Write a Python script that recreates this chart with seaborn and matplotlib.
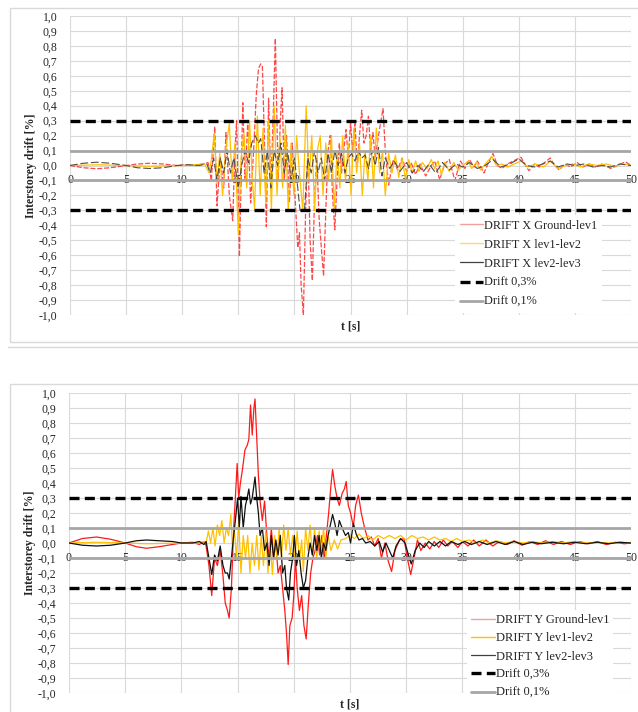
import numpy as np
import matplotlib
matplotlib.use("Agg")
import matplotlib.pyplot as plt
import seaborn as sns
from matplotlib.lines import Line2D
from matplotlib.patches import Rectangle
from matplotlib.ticker import FuncFormatter

# ---------------- DATA ----------------
# Top chart: DRIFT X
tx_g1 = [0, 1.2, 2.4, 3.6, 5.0, 6.0, 7.1, 8.3, 9.5, 10.5, 11.2, 11.8, 12.3, 12.6, 12.9, 13.1, 13.4, 13.7, 13.9, 14.2,
         14.5, 14.7, 14.85, 15.1, 15.4, 15.6, 15.85, 16.1, 16.4, 16.6, 16.8, 17.0, 17.15, 17.35, 17.5, 17.7, 17.9, 18.1,
         18.3, 18.55, 18.75, 18.9, 19.1, 19.3, 19.55, 19.8, 20.05, 20.3, 20.45, 20.6, 20.8, 21.0, 21.2, 21.4, 21.6, 21.8,
         22.0, 22.2, 22.45, 22.6, 22.8, 23.0, 23.2, 23.4, 23.6, 23.8, 24.0, 24.2, 24.4, 24.6, 24.8, 25.0, 25.2, 25.4,
         25.6, 25.8, 26.0, 26.2, 26.4, 26.6, 26.8, 27.0, 27.2, 27.4, 27.6, 27.9, 28.1, 28.4, 28.8, 29.2, 29.6, 30.0,
         30.4, 30.8, 31.2, 31.7, 32.2, 32.5, 32.95, 33.4, 33.8, 34.3, 34.8, 35.2, 35.6, 36.0, 36.3, 36.9, 37.3, 37.7,
         38.1, 38.5, 39.0, 39.5, 40.2, 40.6, 40.9, 41.4, 41.8, 42.3, 42.8, 43.2, 43.6, 44.1, 44.6, 45.2, 45.7, 46.3,
         46.8, 47.4, 48.2, 48.8, 49.5, 50]
vx_g1 = [0, -0.015, -0.022, -0.015, 0, 0.01, 0.015, 0.01, 0, 0.005, 0.0, 0.01, 0.02, -0.1, 0.26, -0.27, 0.05, -0.15,
         0.22, -0.2, -0.37, 0.1, 0.3, -0.61, 0.42, -0.1, 0.3, -0.25, 0.15, 0.47, 0.65, 0.68, 0.66, 0.1, -0.41, 0.45,
         -0.15, 0.3, 0.85, -0.1, 0.3, 0.52, -0.1, 0.2, -0.25, 0.15, -0.2, -0.55, -0.45, -0.8, -1.0, -0.3, 0.1, -0.5,
         -0.77, -0.2, 0.05, -0.35, -0.6, -0.74, -0.3, 0.1, 0.2, -0.2, -0.43, -0.1, 0.15, -0.05, 0.1, 0.24, 0.05, 0.28,
         0.1, 0.28, 0.0, 0.2, 0.37, 0.15, 0.2, 0.33, 0.1, 0.22, 0.05, 0.15, 0.25, 0.38, 0.1, -0.13, 0.04, -0.03, 0.05,
         -0.04, 0.02, -0.06, 0.01, -0.07, 0.0, 0.03, -0.095, 0.01, 0.04, -0.1, 0.03, -0.02, 0.04, -0.01, 0.03, -0.05,
         0.02, 0.08, 0.0, -0.02, 0.01, 0.03, 0.055, 0.0, -0.035, 0.01, -0.01, 0.02, 0.05, 0.0, -0.03, 0.01, -0.01,
         0.02, -0.01, 0.01, -0.01, 0.01, -0.02, 0.0, 0.025, 0.0]

tx_12 = [0, 2.5, 7.0, 10.0, 12.0, 12.4, 12.6, 12.85, 13.1, 13.35, 13.6, 13.9, 14.2, 14.45, 14.7, 15.0, 15.25, 15.5,
         15.75, 16.0, 16.25, 16.45, 16.7, 16.95, 17.2, 17.45, 17.7, 17.95, 18.2, 18.45, 18.7, 18.95, 19.2, 19.45, 19.7,
         19.95, 20.2, 20.45, 20.75, 21.05, 21.3, 21.55, 21.8, 22.05, 22.3, 22.55, 22.8, 23.05, 23.3, 23.55, 23.8, 24.05,
         24.3, 24.55, 24.8, 25.05, 25.3, 25.55, 25.8, 26.05, 26.3, 26.55, 26.8, 27.05, 27.3, 27.6, 27.85, 28.1, 28.4,
         28.7, 29.0, 29.3, 29.6, 29.9, 30.2, 30.5, 30.8, 31.1, 31.4, 31.8, 32.2, 32.5, 32.8, 33.1, 33.4, 33.8, 34.2,
         34.6, 35.0, 35.5, 35.8, 36.2, 36.6, 37.0, 37.6, 38.0, 38.5, 39.0, 39.6, 40.2, 40.8, 41.5, 42.2, 42.8, 43.5,
         44.2, 44.8, 45.5, 46.2, 47.0, 47.8, 48.5, 49.3, 50]
vx_12 = [0, 0.005, -0.005, 0.0, 0.01, -0.05, 0.04, 0.21, -0.12, 0.08, -0.2, 0.12, 0.28, -0.1, 0.15, -0.46, 0.05, 0.22,
         -0.15, 0.3, -0.1, -0.29, 0.33, -0.2, 0.25, -0.25, 0.3, -0.3, 0.4, -0.2, 0.2, -0.15, 0.27, -0.3, 0.15, -0.2,
         0.2, -0.05, -0.3, 0.4, -0.1, 0.2, -0.3, 0.1, 0.2, -0.2, 0.15, -0.1, 0.2, -0.3, 0.1, -0.15, 0.2, -0.1, 0.15,
         -0.2, 0.25, -0.05, 0.15, -0.2, 0.1, -0.1, 0.2, -0.15, 0.25, -0.05, 0.1, -0.2, 0.08, -0.05, 0.07, -0.08, 0.05,
         -0.09, 0.04, -0.05, 0.03, -0.04, 0.02, -0.02, 0.04, -0.02, 0.03, -0.06, 0.02, -0.04, 0.02, -0.03, 0.0, 0.03,
         -0.02, 0.02, -0.03, 0.01, 0.06, 0.0, 0.01, -0.01, 0.01, 0.03, -0.01, 0.01, -0.01, 0.03, -0.02, 0.0, 0.01,
         -0.01, 0.01, 0.0, 0.01, -0.005, 0.01, 0.0]

tx_23 = [0, 1.2, 2.4, 3.6, 5.0, 6.0, 7.1, 8.3, 9.5, 10.5, 11.5, 12.2, 12.5, 12.8, 13.1, 13.4, 13.7, 14.0, 14.3, 14.6,
         15.0, 15.3, 15.6, 15.9, 16.2, 16.5, 16.8, 17.0, 17.3, 17.6, 17.9, 18.2, 18.5, 18.8, 19.1, 19.4, 19.7, 20.0,
         20.3, 20.5, 20.9, 21.2, 21.5, 21.8, 22.1, 22.4, 22.7, 23.0, 23.3, 23.6, 23.9, 24.2, 24.5, 24.8, 25.1, 25.4,
         25.7, 26.0, 26.3, 26.6, 26.9, 27.2, 27.5, 27.8, 28.1, 28.5, 28.9, 29.4, 30.0, 30.5, 31.0, 31.5, 32.0, 32.6,
         33.2, 33.8, 34.4, 35.0, 35.6, 36.3, 37.0, 37.7, 38.4, 39.2, 40.0, 40.7, 41.4, 42.1, 42.8, 43.5, 44.3, 45.0,
         45.8, 46.6, 47.4, 48.2, 49.0, 50]
vx_23 = [0, 0.015, 0.022, 0.015, 0, -0.015, -0.02, -0.015, 0, 0.005, 0.0, 0.01, -0.05, 0.05, -0.1, 0.05, -0.05, 0.1,
         -0.05, 0.05, -0.15, 0.0, 0.1, 0.02, 0.15, 0.2, 0.15, 0.18, -0.05, 0.1, -0.15, 0.1, 0.0, 0.15, -0.05, 0.1,
         -0.1, 0.05, -0.15, -0.3, -0.3, 0.05, -0.05, 0.1, -0.05, 0.05, -0.1, 0.08, -0.05, 0.1, 0.0, 0.08, -0.05, 0.05,
         0.08, 0.03, 0.1, 0.05, 0.07, -0.02, 0.1, 0.0, 0.12, -0.07, 0.05, -0.02, 0.03, -0.04, 0.02, -0.05, 0.0, -0.04,
         0.01, -0.05, 0.02, -0.03, 0.01, -0.01, 0.02, -0.02, 0.0, 0.04, -0.01, 0.01, 0.045, 0.0, -0.01, 0.01, 0.03,
         -0.01, 0.01, 0.0, 0.01, -0.01, 0.0, -0.01, 0.01, 0.0]

# Bottom chart: DRIFT Y
ty_g1 = [0, 1.2, 2.45, 3.7, 5.0, 6.0, 6.9, 8.0, 9.2, 10.0, 11.0, 11.6, 12.0, 12.2, 12.45, 12.7, 12.95, 13.2, 13.45,
         13.7, 13.9, 14.1, 14.25, 14.45, 14.65, 14.8, 14.96, 15.1, 15.25, 15.45, 15.65, 15.85, 16.0, 16.15, 16.3,
         16.45, 16.55, 16.7, 16.85, 17.0, 17.2, 17.4, 17.6, 17.8, 18.0, 18.2, 18.4, 18.6, 18.8, 19.0, 19.2, 19.35,
         19.5, 19.65, 19.85, 20.0, 20.15, 20.3, 20.5, 20.7, 20.9, 21.1, 21.3, 21.5, 21.7, 21.9, 22.1, 22.3, 22.5, 22.7,
         22.9, 23.1, 23.3, 23.45, 23.65, 23.85, 24.05, 24.3, 24.5, 24.66, 24.85, 25.05, 25.3, 25.5, 25.75, 26.0, 26.3,
         26.6, 26.9, 27.2, 27.5, 27.8, 28.1, 28.4, 28.7, 29.0, 29.4, 29.8, 30.1, 30.4, 30.7, 31.0, 31.3, 31.7, 32.1,
         32.5, 32.9, 33.3, 33.7, 34.1, 34.6, 35.0, 35.5, 36.0, 36.5, 37.1, 37.7, 38.3, 39.0, 39.6, 40.3, 41.0, 41.7,
         42.4, 43.1, 43.8, 44.6, 45.4, 46.2, 47.0, 47.8, 48.6, 49.4, 50]
vy_g1 = [0, 0.03, 0.04, 0.025, 0.0, -0.025, -0.035, -0.025, -0.01, 0.0, 0.005, -0.01, 0.01, -0.02, -0.15, -0.35,
         -0.1, -0.15, -0.05, -0.22, -0.4, -0.45, -0.5, -0.3, 0.1, 0.3, 0.53, 0.3, 0.4, 0.5, 0.62, 0.65, 0.69, 0.92,
         0.72, 0.9, 0.96, 0.7, 0.45, 0.28, 0.15, 0.28, 0.05, -0.1, 0.1, -0.1, 0.0, -0.2, -0.15, -0.3, -0.45, -0.6,
         -0.81, -0.55, -0.5, -0.35, -0.1, -0.3, -0.45, -0.35, -0.55, -0.64, -0.4, -0.2, -0.1, -0.05, 0.05, -0.08, 0.05,
         -0.1, 0.05, 0.2, 0.38, 0.49, 0.38, 0.3, 0.25, 0.33, 0.36, 0.41, 0.25, 0.2, 0.11, 0.25, 0.32, 0.2, 0.1, 0.02,
         0.04, -0.02, 0.03, -0.1, 0.0, -0.12, -0.19, -0.05, 0.02, 0.03, -0.1, -0.21, -0.1, 0.02, -0.05, 0.0, -0.04,
         0.01, -0.03, 0.02, -0.02, 0.01, -0.03, 0.01, -0.02, 0.02, -0.02, 0.02, -0.02, 0.01, -0.01, 0.015, -0.015,
         0.01, -0.01, 0.015, -0.01, 0.01, -0.01, 0.01, -0.005, 0.01, -0.01, 0.005, -0.005, 0.0]

ty_12 = [0, 2.45, 5.0, 6.9, 10.0, 11.5, 12.0, 12.2, 12.4, 12.6, 12.8, 13.0, 13.2, 13.4, 13.6, 13.8, 14.0, 14.2, 14.4,
         14.55, 14.7, 14.9, 15.1, 15.3, 15.5, 15.7, 15.9, 16.1, 16.3, 16.5, 16.7, 16.9, 17.1, 17.3, 17.5, 17.7, 17.9,
         18.1, 18.3, 18.5, 18.7, 18.9, 19.1, 19.3, 19.5, 19.7, 19.9, 20.1, 20.3, 20.5, 20.7, 20.85, 21.05, 21.25,
         21.45, 21.65, 21.85, 22.05, 22.25, 22.45, 22.65, 22.85, 23.05, 23.3, 23.6, 23.9, 24.2, 24.6, 25.0, 25.4,
         25.8, 26.2, 26.6, 27.0, 27.5, 28.0, 28.5, 29.0, 29.5, 30.0, 30.5, 31.0, 31.5, 32.0, 32.5, 33.0, 33.5, 34.0,
         34.5, 35.0, 35.6, 36.2, 36.8, 37.4, 38.0, 38.8, 39.6, 40.4, 41.2, 42.0, 43.0, 44.0, 45.0, 46.0, 47.0, 48.0,
         49.0, 50]
vy_12 = [0, 0.005, 0.0, -0.005, 0.0, 0.0, 0.01, 0.0, 0.08, 0.0, 0.1, -0.02, 0.12, 0.05, 0.15, 0.0, 0.1, 0.05, 0.19,
         -0.05, 0.1, -0.1, 0.15, -0.2, 0.05, -0.1, 0.05, -0.2, 0.0, -0.15, 0.05, -0.18, 0.05, -0.15, 0.08, -0.2, 0.0,
         -0.21, 0.05, -0.1, 0.1, -0.1, 0.12, -0.05, 0.1, -0.08, 0.05, -0.1, 0.08, -0.12, 0.02, -0.19, 0.1, -0.05,
         0.12, -0.08, 0.1, -0.1, 0.08, -0.05, 0.1, -0.1, 0.05, -0.05, 0.02, -0.04, 0.02, 0.03, 0.05, 0.03, 0.06, 0.03,
         0.05, 0.02, 0.05, 0.03, 0.05, 0.03, 0.05, 0.02, 0.05, 0.03, 0.04, 0.02, 0.04, 0.02, 0.03, 0.01, 0.03, 0.01,
         0.02, 0.0, 0.02, 0.0, 0.015, 0.0, 0.01, 0.0, 0.01, 0.0, 0.01, 0.0, 0.01, 0.0, 0.005, 0.0, 0.005, 0.0]

ty_23 = [0, 1.2, 2.45, 3.7, 5.0, 6.0, 6.9, 8.0, 9.2, 10.0, 11.0, 11.6, 12.0, 12.2, 12.45, 12.7, 12.95, 13.2, 13.45,
         13.7, 13.9, 14.1, 14.25, 14.45, 14.65, 14.8, 15.0, 15.15, 15.3, 15.5, 15.7, 15.85, 16.0, 16.15, 16.3, 16.55,
         16.7, 16.85, 17.0, 17.2, 17.4, 17.6, 17.8, 18.0, 18.2, 18.4, 18.6, 18.8, 19.0, 19.2, 19.35, 19.55, 19.7,
         19.9, 20.05, 20.25, 20.45, 20.65, 20.85, 21.05, 21.25, 21.45, 21.65, 21.85, 22.05, 22.25, 22.45, 22.65,
         22.85, 23.05, 23.25, 23.45, 23.65, 23.85, 24.05, 24.3, 24.6, 24.85, 25.05, 25.3, 25.55, 25.8, 26.1, 26.4,
         26.8, 27.2, 27.6, 27.9, 28.2, 28.5, 28.8, 29.1, 29.5, 29.9, 30.2, 30.45, 30.8, 31.2, 31.6, 32.0, 32.5, 33.0,
         33.5, 34.0, 34.6, 35.2, 35.8, 36.5, 37.2, 38.0, 38.8, 39.6, 40.4, 41.2, 42.0, 43.0, 44.0, 45.0, 46.0, 47.0,
         48.0, 49.0, 50]
vy_23 = [0, -0.015, -0.02, -0.015, 0.0, 0.015, 0.02, 0.015, 0.01, 0.0, 0.0, 0.01, -0.01, 0.01, -0.1, -0.21, -0.08,
         -0.12, -0.02, -0.15, -0.2, -0.2, -0.24, -0.1, 0.05, 0.15, 0.3, 0.1, 0.31, 0.1, 0.25, 0.3, 0.36, 0.26, 0.3,
         0.44, 0.3, 0.2, 0.05, 0.1, -0.05, 0.0, -0.15, 0.05, -0.1, 0.02, -0.08, 0.05, -0.2, -0.15, -0.3, -0.38, -0.2,
         -0.1, 0.05, -0.15, -0.05, -0.2, -0.3, -0.25, -0.1, 0.0, -0.08, 0.05, -0.05, 0.05, -0.1, 0.0, -0.05, 0.05,
         0.12, 0.19, 0.13, 0.05, 0.15, 0.1, 0.05, 0.07, 0.0, 0.13, 0.06, 0.02, 0.03, 0.0, 0.01, -0.02, 0.01, -0.06,
         0.0, -0.05, -0.1, -0.02, 0.03, 0.0, -0.08, -0.14, -0.05, 0.0, -0.03, 0.01, -0.02, 0.01, -0.02, 0.01, -0.01,
         0.01, -0.01, 0.01, -0.01, 0.01, -0.01, 0.01, -0.01, 0.005, -0.005, 0.005, -0.005, 0.005, -0.005, 0.005,
         -0.005, 0.005, 0.0]

limit_03 = [0.3, -0.3]
limit_01 = [0.1, -0.1]
limit_t = [0, 50]

x_ticks = [0, 5, 10, 15, 20, 25, 30, 35, 40, 45, 50]
y_ticks = [round(-1.0 + 0.1 * i, 1) for i in range(21)]

labels_x = ["DRIFT X Ground-lev1", "DRIFT X lev1-lev2", "DRIFT X lev2-lev3", "Drift 0,3%", "Drift 0,1%"]
labels_y = ["DRIFT Y Ground-lev1", "DRIFT Y lev1-lev2", "DRIFT Y lev2-lev3", "Drift 0,3%", "Drift 0,1%"]

# ---------------- STYLE ----------------
sns.set_theme(style="white")
plt.rcParams["font.family"] = ["Liberation Serif", "DejaVu Serif"]

W, H = 638, 712
fig = plt.figure(figsize=(W / 100, H / 100), dpi=100)
fig.patch.set_facecolor("white")

GRID = "#d9d9d9"
RED = "#ff1a1a"
YEL = "#ffc000"
DASH = (0, (3.0, 1.6))


def setup(ax):
    ax.set_xlim(0, 50)
    ax.set_ylim(-1, 1)
    ax.set_xticks(x_ticks)
    ax.set_yticks(y_ticks)
    ax.yaxis.set_major_formatter(FuncFormatter(lambda v, p: f"{v:.1f}".replace(".", ",").replace("-0,0", "0,0")))
    ax.grid(True, color=GRID, lw=0.8)
    ax.set_axisbelow(True)
    for s in ax.spines.values():
        s.set_visible(False)
    ax.spines["bottom"].set_position(("data", -0.1))
    ax.tick_params(axis="x", length=0, pad=0, labelsize=8.5, colors="#262626")
    ax.tick_params(axis="y", length=0, pad=9, labelsize=8.5, colors="#262626")
    for lbl in ax.get_xticklabels():
        lbl.set_va("center")
    ax.set_xlabel("t [s]", fontsize=8.5, fontweight="bold", color="#262626")
    ax.set_ylabel("Interstorey drift [%]", fontsize=8.5, fontweight="bold", color="#262626")
    ax.xaxis.set_label_coords(0.5, -0.017)
    ax.yaxis.set_label_coords(-0.058, 0.5)


def limits(ax):
    for lv in limit_01:
        sns.lineplot(x=limit_t, y=[lv, lv], ax=ax, color="#a6a6a6", lw=2.0, legend=False)
    for lv in limit_03:
        sns.lineplot(x=limit_t, y=[lv, lv], ax=ax, color="black", lw=2.4, linestyle=DASH, legend=False)


AX_R = 631

# Top chart
ax1 = fig.add_axes([70 / W, 1 - 315 / H, (AX_R - 70) / W, 299 / H])
setup(ax1)
sns.lineplot(x=tx_g1, y=vx_g1, ax=ax1, color=RED, lw=0.9, alpha=0.8, linestyle=(0, (4, 1.5)),
             estimator=None, sort=False, legend=False)
sns.lineplot(x=tx_12, y=vx_12, ax=ax1, color=YEL, lw=0.9, estimator=None, sort=False, legend=False)
sns.lineplot(x=tx_23, y=vx_23, ax=ax1, color="#4d4d4d", lw=0.8, linestyle=(0, (7, 2.5)),
             estimator=None, sort=False, legend=False)
limits(ax1)

h1 = [Line2D([], [], color="#f4a0a0", lw=1.0),
      Line2D([], [], color="#ffd966", lw=1.0),
      Line2D([], [], color="#404040", lw=0.9),
      Line2D([], [], color="black", lw=2.4, linestyle=DASH),
      Line2D([], [], color="#a6a6a6", lw=2.0)]
leg1 = ax1.legend(h1, labels_x, loc="lower right", bbox_to_anchor=(0.955, -0.005), fontsize=8.8, frameon=True,
                  facecolor="white", edgecolor="none", framealpha=1, handlelength=1.9, handletextpad=0.1,
                  labelspacing=0.58, borderpad=0.4, borderaxespad=0.3)
for t in leg1.get_texts():
    t.set_color("#262626")

# Bottom chart
ax2 = fig.add_axes([69 / W, 1 - 693 / H, (AX_R - 69) / W, 300 / H])
setup(ax2)
sns.lineplot(x=ty_g1, y=vy_g1, ax=ax2, color=RED, lw=0.9, estimator=None, sort=False, legend=False)
sns.lineplot(x=ty_12, y=vy_12, ax=ax2, color=YEL, lw=0.9, estimator=None, sort=False, legend=False)
sns.lineplot(x=ty_23, y=vy_23, ax=ax2, color="#111111", lw=0.9, estimator=None, sort=False, legend=False)
limits(ax2)

h2 = [Line2D([], [], color="#f4a0a0", lw=1.0),
      Line2D([], [], color="#ffc000", lw=1.0),
      Line2D([], [], color="#404040", lw=0.9),
      Line2D([], [], color="black", lw=2.4, linestyle=DASH),
      Line2D([], [], color="#a6a6a6", lw=2.0)]
leg2 = ax2.legend(h2, labels_y, loc="lower right", bbox_to_anchor=(0.975, -0.045), fontsize=9, frameon=True,
                  facecolor="white", edgecolor="none", framealpha=1, handlelength=1.9, handletextpad=0.1,
                  labelspacing=0.5, borderpad=0.3, borderaxespad=0.3)
for t in leg2.get_texts():
    t.set_color("#262626")

# Chart area borders
fig.add_artist(Rectangle((10 / W, 1 - 342 / H), 1.0, (342 - 8) / H, transform=fig.transFigure,
                         fill=False, ec=GRID, lw=1.0))
fig.add_artist(Line2D([8 / W, 1.0], [1 - 347 / H, 1 - 347 / H], transform=fig.transFigure, color=GRID, lw=1.0))
fig.add_artist(Rectangle((10 / W, -0.1), 1.0, 0.1 + 1 - 384 / H, transform=fig.transFigure,
                         fill=False, ec=GRID, lw=1.0))

fig.savefig("out.png", dpi=100, facecolor="white")
